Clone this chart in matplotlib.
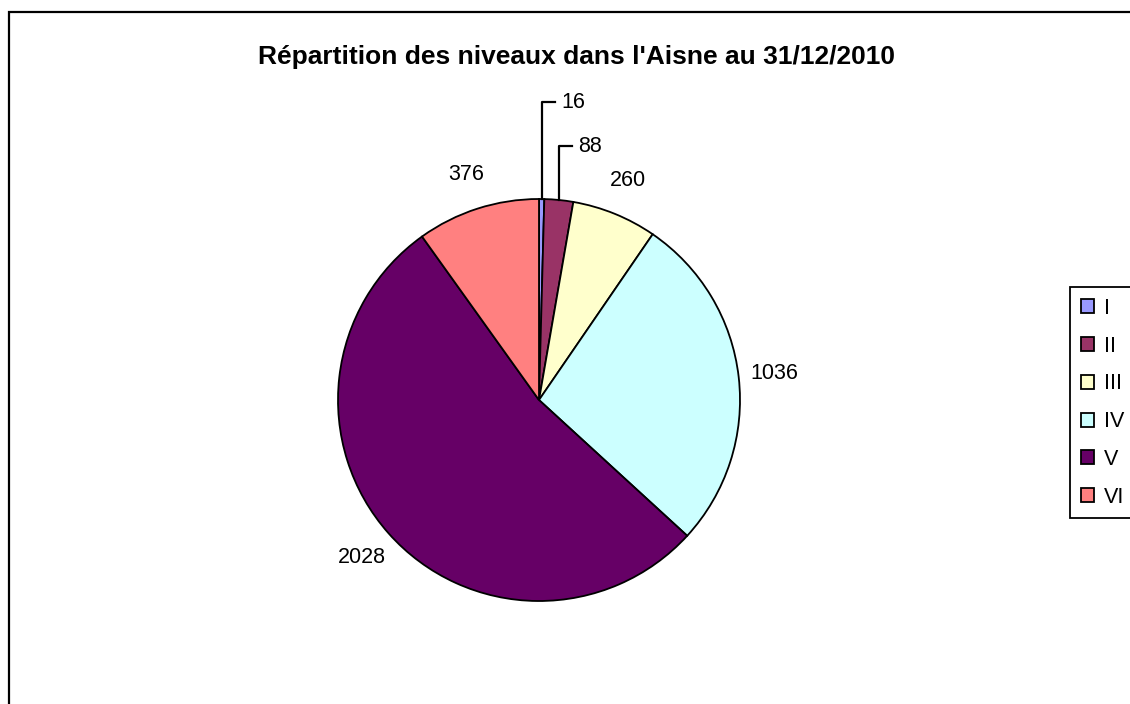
import numpy as np
import matplotlib.pyplot as plt
from matplotlib.patches import Rectangle

# Data
niveaux = ['I', 'II', 'III', 'IV', 'V', 'VI']
effectifs = [16, 88, 260, 1036, 2028, 376]
couleurs = ['#9999FF', '#993366', '#FFFFCC', '#CCFFFF', '#660066', '#FF8080']
titre = "Répartition des niveaux dans l'Aisne au 31/12/2010"

W, H = 1130, 704
fig = plt.figure(figsize=(W / 100, H / 100), dpi=100)
ax = fig.add_axes([0, 0, 1, 1])

plt.rcParams['font.family'] = ['Liberation Sans', 'DejaVu Sans']

# outer chart frame (cut off on the right and bottom like the original)
ax.add_patch(Rectangle((9, -20), W + 50, H - 12 + 20, fill=False,
                       edgecolor='black', linewidth=1.6))

cx, cy, r = 539, H - 400, 201
wedges, _ = ax.pie(effectifs, colors=couleurs, startangle=90, counterclock=False,
                   center=(cx, cy), radius=r, frame=True,
                   wedgeprops=dict(edgecolor='black', linewidth=1.3))
ax.set_xlim(0, W)
ax.set_ylim(0, H)
ax.set_aspect('auto')
ax.axis('off')

# data labels
leader = {0: (561, H - 102), 1: (578, H - 146)}
for i, (w, v) in enumerate(zip(wedges, effectifs)):
    ang = np.deg2rad((w.theta1 + w.theta2) / 2)
    if i in leader:
        x0, y0 = cx + r * np.cos(ang), cy + r * np.sin(ang)
        tx, ty = leader[i]
        ax.plot([x0, x0, tx - 6], [y0, ty, ty], color='black', linewidth=1.6)
        ax.text(tx, ty, str(v), ha='left', va='center', fontsize=15.5)
    else:
        d = 1.18 * r
        ax.text(cx + d * np.cos(ang), cy + d * np.sin(ang), str(v),
                ha='center', va='center', fontsize=15.5)

ax.text(577, H - 57, titre, ha='center', va='center', fontsize=19,
        fontweight='bold')

leg = ax.legend(wedges, niveaux, loc='upper left',
                bbox_to_anchor=(1070 / W, 1 - 287 / H),
                fontsize=15.5, frameon=True, fancybox=False, framealpha=1,
                edgecolor='black', handlelength=0.62, handleheight=0.62,
                handletextpad=0.45, labelspacing=0.78, borderpad=0.5,
                borderaxespad=0)
leg.get_frame().set_linewidth(1.3)
for h in leg.legend_handles:
    h.set_linewidth(1.3)

fig.savefig('out.png', dpi=100)
